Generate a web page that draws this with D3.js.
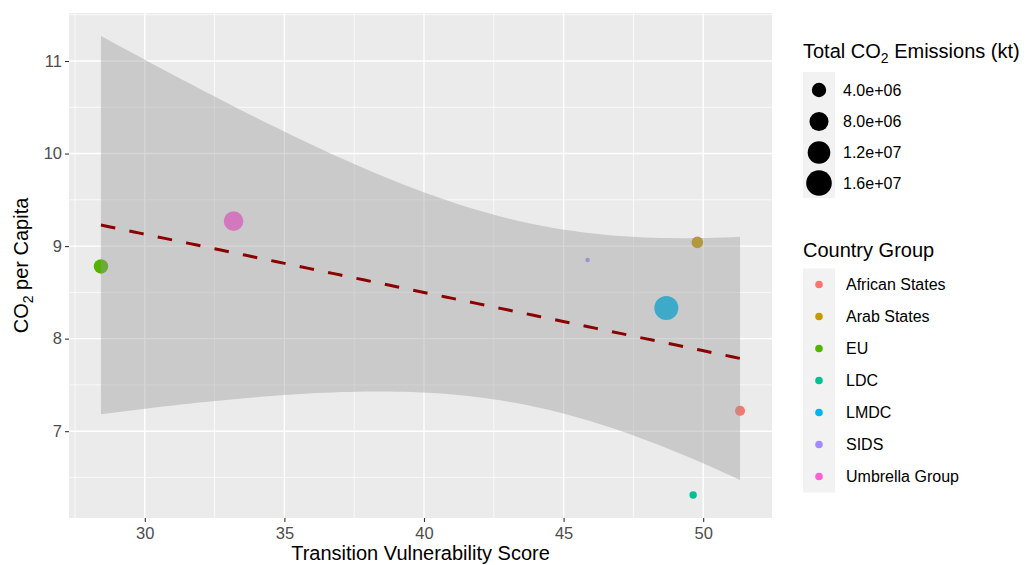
<!DOCTYPE html>
<html>
<head>
<meta charset="utf-8">
<script src="https://cdn.jsdelivr.net/npm/d3@7"></script>
<style>
  html, body { margin: 0; padding: 0; background: #ffffff; }
  svg { display: block; font-family: "Liberation Sans", Arial, sans-serif; }
</style>
</head>
<body>
<svg id="chart" width="1027" height="565"></svg>
<script>
// ---- Data ----
const groups = ["African States", "Arab States", "EU", "LDC", "LMDC", "SIDS", "Umbrella Group"];
const vulnerability = [51.32, 49.79, 28.43, 49.64, 48.68, 45.86, 33.18];
const co2PerCapita = [7.22, 9.04, 8.78, 6.31, 8.33, 8.85, 9.27];
const totalEmissions = [1.5e6, 2.25e6, 4.0e6, 0.56e6, 13.8e6, 0.05e6, 8.6e6];
const groupColors = ["#F8766D", "#C49A00", "#53B400", "#00C094", "#00B6EB", "#A58AFF", "#FB61D7"];
const xTicks = [30, 35, 40, 45, 50];
const yTicks = [7, 8, 9, 10, 11];
const sizeBreaks = [4e6, 8e6, 12e6, 16e6];
const sizeLabels = ["4.0e+06", "8.0e+06", "1.2e+07", "1.6e+07"];
const tQuantile = 2.5706; // t(0.975, df = 5)

// ---- Linear fit with 95% confidence band (like geom_smooth(method = "lm")) ----
const n = vulnerability.length;
const mx = d3.mean(vulnerability), my = d3.mean(co2PerCapita);
const sxx = d3.sum(vulnerability, v => (v - mx) ** 2);
const sxy = d3.sum(vulnerability, (v, i) => (v - mx) * (co2PerCapita[i] - my));
const slope = sxy / sxx, intercept = my - slope * mx;
const sres = Math.sqrt(d3.sum(vulnerability, (v, i) => (co2PerCapita[i] - (intercept + slope * v)) ** 2) / (n - 2));
const [xmin, xmax] = d3.extent(vulnerability);
const fit = d3.range(0, 81).map(k => {
  const x = xmin + (xmax - xmin) * k / 80;
  const yhat = intercept + slope * x;
  const se = sres * Math.sqrt(1 / n + (x - mx) ** 2 / sxx);
  return { x, y: yhat, lo: yhat - tQuantile * se, hi: yhat + tQuantile * se };
});

// ---- Scales (ggplot-style 5% expansion) ----
const xr = [xmin, xmax];
const yr = [Math.min(d3.min(co2PerCapita), d3.min(fit, d => d.lo)), Math.max(d3.max(co2PerCapita), d3.max(fit, d => d.hi))];
const ex = (xr[1] - xr[0]) * 0.05, ey = (yr[1] - yr[0]) * 0.05;
const panel = { left: 69, right: 772, top: 13, bottom: 518 };
const x = d3.scaleLinear().domain([xr[0] - ex, xr[1] + ex]).range([panel.left, panel.right]);
const y = d3.scaleLinear().domain([yr[0] - ey, yr[1] + ey]).range([panel.bottom, panel.top]);
const r = d3.scaleSqrt().domain([0, 16e6]).range([1.6, 12.8]);

const svg = d3.select("#chart");

// Panel background
svg.append("rect").attr("x", panel.left).attr("y", panel.top)
  .attr("width", panel.right - panel.left).attr("height", panel.bottom - panel.top)
  .attr("fill", "#EBEBEB");

// Grid lines
const xMinor = d3.range(xTicks[0] - 2.5, xTicks[xTicks.length - 1] + 5, 5).filter(v => v > x.domain()[0] && v < x.domain()[1]);
const yMinor = d3.range(yTicks[0] - 0.5, yTicks[yTicks.length - 1] + 1, 1).filter(v => v > y.domain()[0] && v < y.domain()[1]);
const grid = svg.append("g");
grid.selectAll(".xminor").data(xMinor).join("line")
  .attr("x1", d => x(d)).attr("x2", d => x(d)).attr("y1", panel.top).attr("y2", panel.bottom)
  .attr("stroke", "#ffffff").attr("stroke-width", 0.7);
grid.selectAll(".yminor").data(yMinor).join("line")
  .attr("y1", d => y(d)).attr("y2", d => y(d)).attr("x1", panel.left).attr("x2", panel.right)
  .attr("stroke", "#ffffff").attr("stroke-width", 0.7);
grid.selectAll(".xmajor").data(xTicks).join("line")
  .attr("x1", d => x(d)).attr("x2", d => x(d)).attr("y1", panel.top).attr("y2", panel.bottom)
  .attr("stroke", "#ffffff").attr("stroke-width", 1.4);
grid.selectAll(".ymajor").data(yTicks).join("line")
  .attr("y1", d => y(d)).attr("y2", d => y(d)).attr("x1", panel.left).attr("x2", panel.right)
  .attr("stroke", "#ffffff").attr("stroke-width", 1.4);

// Points (drawn first, band overlays them as in ggplot)
const pts = groups.map((g, i) => ({ g, x: vulnerability[i], y: co2PerCapita[i], s: totalEmissions[i], c: groupColors[i] }));
svg.append("g").selectAll("circle").data(pts).join("circle")
  .attr("cx", d => x(d.x)).attr("cy", d => y(d.y)).attr("r", d => r(d.s))
  .attr("fill", d => d.c);

// Confidence band
svg.append("path").datum(fit)
  .attr("d", d3.area().x(d => x(d.x)).y0(d => y(d.lo)).y1(d => y(d.hi)))
  .attr("fill", "#999999").attr("fill-opacity", 0.4);

// Fitted line
svg.append("path").datum(fit)
  .attr("d", d3.line().x(d => x(d.x)).y(d => y(d.y)))
  .attr("fill", "none").attr("stroke", "#8B0000").attr("stroke-width", 3)
  .attr("stroke-dasharray", "14.6,14.4");

// Axes
const xAxis = svg.append("g").attr("transform", `translate(0,${panel.bottom})`)
  .call(d3.axisBottom(x).tickValues(xTicks).tickFormat(d3.format("d")).tickSize(4).tickPadding(5));
const yAxis = svg.append("g").attr("transform", `translate(${panel.left},0)`)
  .call(d3.axisLeft(y).tickValues(yTicks).tickFormat(d3.format("d")).tickSize(4).tickPadding(3));
[xAxis, yAxis].forEach(a => {
  a.select(".domain").remove();
  a.selectAll(".tick line").attr("stroke", "#333333").attr("stroke-width", 1.1);
  a.selectAll(".tick text").attr("fill", "#4D4D4D").style("font-size", "16.5px")
    .style("font-family", "'Liberation Sans', Arial, sans-serif");
});

// Axis titles
svg.append("text").attr("x", (panel.left + panel.right) / 2).attr("y", 560)
  .attr("text-anchor", "middle").style("font-size", "20px").attr("fill", "#000")
  .text("Transition Vulnerability Score");
const yt = svg.append("text").attr("transform", `translate(28,${(panel.top + panel.bottom) / 2}) rotate(-90)`)
  .attr("text-anchor", "middle").style("font-size", "20px").attr("fill", "#000");
yt.append("tspan").text("CO");
yt.append("tspan").text("2").style("font-size", "14px").attr("dy", 5);
yt.append("tspan").text(" per Capita").attr("dy", -5);

// ---- Size legend ----
const lg1 = svg.append("g");
const t1 = lg1.append("text").attr("x", 803).attr("y", 58).style("font-size", "20px").attr("fill", "#000");
t1.append("tspan").text("Total CO");
t1.append("tspan").text("2").style("font-size", "14px").attr("dy", 5);
t1.append("tspan").text(" Emissions (kt)").attr("dy", -5);
const sizeKeyY = [90, 121.5, 152.5, 183];
const sizeKeyTop = 72, sizeKeyBottom = 198;
lg1.append("rect").attr("x", 803).attr("y", sizeKeyTop).attr("width", 32).attr("height", sizeKeyBottom - sizeKeyTop).attr("fill", "#F2F2F2");
lg1.selectAll("circle").data(sizeBreaks).join("circle")
  .attr("cx", 819).attr("cy", (d, i) => sizeKeyY[i]).attr("r", d => r(d)).attr("fill", "#000");
lg1.selectAll(".lab").data(sizeLabels).join("text")
  .attr("x", 843).attr("y", (d, i) => sizeKeyY[i]).attr("dy", "0.35em")
  .style("font-size", "16px").attr("fill", "#000").text(d => d);

// ---- Color legend ----
const lg2 = svg.append("g");
lg2.append("text").attr("x", 803).attr("y", 257).style("font-size", "20px").attr("fill", "#000").text("Country Group");
const keyTop = 268.5, keyH = 32;
lg2.append("rect").attr("x", 803).attr("y", keyTop).attr("width", 32).attr("height", keyH * groups.length).attr("fill", "#F2F2F2");
lg2.selectAll("circle").data(groups).join("circle")
  .attr("cx", 819).attr("cy", (d, i) => keyTop + keyH * (i + 0.5)).attr("r", 3.8)
  .attr("fill", (d, i) => groupColors[i]);
lg2.selectAll(".lab").data(groups).join("text")
  .attr("x", 846).attr("y", (d, i) => keyTop + keyH * (i + 0.5)).attr("dy", "0.35em")
  .style("font-size", "16px").attr("fill", "#000").text(d => d);
</script>
</body>
</html>
